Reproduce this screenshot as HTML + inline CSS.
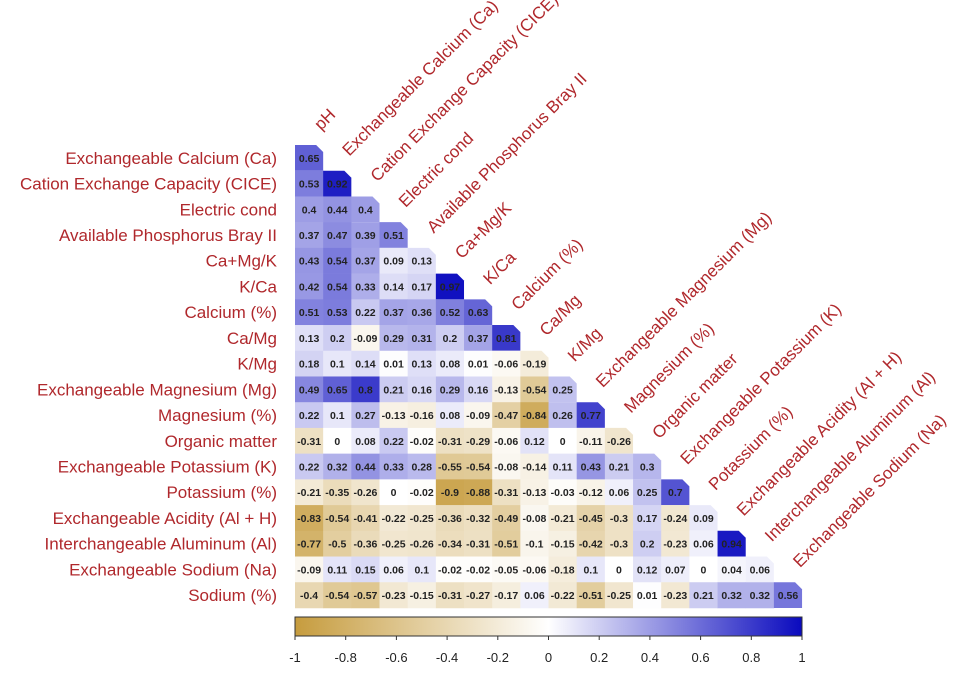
<!DOCTYPE html>
<html><head><meta charset="utf-8"><style>
html,body{margin:0;padding:0;background:#fff;}
svg{display:block;font-family:"Liberation Sans",Arial,sans-serif;}
</style></head><body>
<svg id="s" width="975" height="678" xmlns="http://www.w3.org/2000/svg"></svg>
<script>
const rows=["Exchangeable Calcium (Ca)","Cation Exchange Capacity (CICE)","Electric cond","Available Phosphorus Bray II","Ca+Mg/K","K/Ca","Calcium (%)","Ca/Mg","K/Mg","Exchangeable Magnesium (Mg)","Magnesium (%)","Organic matter","Exchangeable Potassium (K)","Potassium (%)","Exchangeable Acidity (Al + H)","Interchangeable Aluminum (Al)","Exchangeable Sodium (Na)","Sodium (%)"];
const cols=["pH"].concat(rows.slice(0,17));
const V=[
[0.65],
[0.53,0.92],
[0.4,0.44,0.4],
[0.37,0.47,0.39,0.51],
[0.43,0.54,0.37,0.09,0.13],
[0.42,0.54,0.33,0.14,0.17,0.97],
[0.51,0.53,0.22,0.37,0.36,0.52,0.63],
[0.13,0.2,-0.09,0.29,0.31,0.2,0.37,0.81],
[0.18,0.1,0.14,0.01,0.13,0.08,0.01,-0.06,-0.19],
[0.49,0.65,0.8,0.21,0.16,0.29,0.16,-0.13,-0.54,0.25],
[0.22,0.1,0.27,-0.13,-0.16,0.08,-0.09,-0.47,-0.84,0.26,0.77],
[-0.31,0,0.08,0.22,-0.02,-0.31,-0.29,-0.06,0.12,0,-0.11,-0.26],
[0.22,0.32,0.44,0.33,0.28,-0.55,-0.54,-0.08,-0.14,0.11,0.43,0.21,0.3],
[-0.21,-0.35,-0.26,0,-0.02,-0.9,-0.88,-0.31,-0.13,-0.03,-0.12,0.06,0.25,0.7],
[-0.83,-0.54,-0.41,-0.22,-0.25,-0.36,-0.32,-0.49,-0.08,-0.21,-0.45,-0.3,0.17,-0.24,0.09],
[-0.77,-0.5,-0.36,-0.25,-0.26,-0.34,-0.31,-0.51,-0.1,-0.15,-0.42,-0.3,0.2,-0.23,0.06,0.94],
[-0.09,0.11,0.15,0.06,0.1,-0.02,-0.02,-0.05,-0.06,-0.18,0.1,0,0.12,0.07,0,0.04,0.06],
[-0.4,-0.54,-0.57,-0.23,-0.15,-0.31,-0.27,-0.17,0.06,-0.22,-0.51,-0.25,0.01,-0.23,0.21,0.32,0.32,0.56]];
function col(v){let a=Math.abs(v),c=v<0?[198,156,62]:[10,10,190];
return `rgb(${Math.round(255+(c[0]-255)*a)},${Math.round(255+(c[1]-255)*a)},${Math.round(255+(c[2]-255)*a)})`;}
const x0=295,y0=145,cw=28.17,rh=25.72;let h='';
const red='#b0282c';
for(let r=0;r<18;r++){
 const y=y0+r*rh;
 h+=`<text x="277" y="${y+rh/2+6}" text-anchor="end" font-size="17" fill="${red}">${rows[r]}</text>`;
 for(let c=0;c<=r;c++){
  const x=x0+c*cw,v=V[r][c];
  if(c==r){const k=7;h+=`<path d="M${x} ${y}H${x+cw-k}L${x+cw} ${y+k}V${y+rh}H${x}Z" fill="${col(v)}"/>`;}
  else h+=`<rect x="${x}" y="${y}" width="${cw+0.3}" height="${rh+0.3}" fill="${col(v)}"/>`;
  h+=`<text x="${x+cw/2}" y="${y+rh/2+4}" text-anchor="middle" font-size="10.5" font-weight="bold" fill="#222">${v}</text>`;
 }
}
for(let c=0;c<18;c++){
 const x=x0+c*cw+cw/2+12,y=y0+c*rh-14;
 h+=`<text transform="translate(${x},${y}) rotate(-45)" font-size="17" fill="${red}">${cols[c]}</text>`;
}
h+=`<defs><linearGradient id="g"><stop offset="0" stop-color="${col(-1)}"/><stop offset="0.5" stop-color="#fff"/><stop offset="1" stop-color="${col(1)}"/></linearGradient></defs>`;
h+=`<rect x="295" y="617" width="507" height="19" fill="url(#g)" stroke="#333" stroke-width="1"/>`;
for(let i=0;i<=10;i++){const x=295+i*50.7,v=(-1+i*0.2).toFixed(1).replace(/\.0$/,'');
 h+=`<line x1="${x}" y1="636" x2="${x}" y2="640" stroke="#333"/>`;
 h+=`<text x="${x}" y="662" text-anchor="middle" font-size="13" fill="#222">${v=="-0"?"0":v}</text>`;}
document.getElementById('s').innerHTML=h;
</script>
</body></html>
